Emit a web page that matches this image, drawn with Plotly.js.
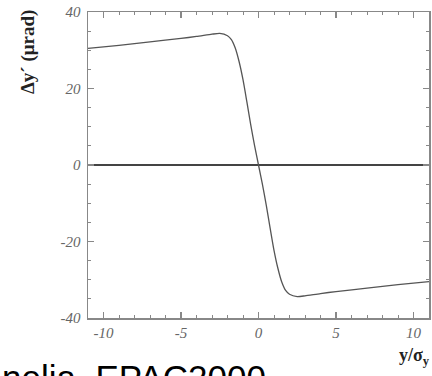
<!DOCTYPE html>
<html><head><meta charset="utf-8">
<script src="https://cdn.plot.ly/plotly-3.0.1.min.js"></script>
<style>html,body{margin:0;padding:0;background:#fff;}#chart{width:432px;height:376px;}</style>
</head><body><div id="chart"></div>
<script>
const yOverSigma = [-11, -9, -7, -5, -4, -3, -2.5, -2, -1.75, -1.5, -1.25, -1, -0.75, -0.5, -0.25, 0,
                    0.25, 0.5, 0.75, 1, 1.25, 1.5, 1.75, 2, 2.5, 3, 4, 5, 7, 9, 11];
const kick = [30.5, 31.3, 32.2, 33.1, 33.6, 34.2, 34.4, 33.8, 32.8, 30.6, 27.0, 22.3, 16.5, 10.5, 5.0, 0,
              -5.0, -10.5, -16.5, -22.3, -27.0, -30.6, -32.8, -33.8, -34.4, -34.2, -33.6, -33.1, -32.2, -31.3, -30.5];
const xTicks = [-10, -5, 0, 5, 10];
const yTicks = [-40, -20, 0, 20, 40];

const tickFont = {family: 'Liberation Serif', size: 15, color: '#666', style: 'italic'};
const axisCommon = {
  showline: true, linecolor: '#888', linewidth: 1.5, mirror: 'ticks',
  ticks: 'inside', ticklen: 6, tickwidth: 1.2, tickcolor: '#888',
  showgrid: false, tickfont: tickFont
};

const data = [{
  x: yOverSigma, y: kick, type: 'scatter', mode: 'lines',
  line: {color: '#555', width: 1.3, shape: 'spline', smoothing: 0.6},
  hoverinfo: 'skip'
}];

const layout = {
  width: 432, height: 376,
  margin: {l: 88, r: 3, t: 12, b: 58},
  paper_bgcolor: '#fff', plot_bgcolor: '#fff',
  showlegend: false,
  xaxis: Object.assign({}, axisCommon, {
    range: [-11, 11], tickvals: xTicks, ticktext: xTicks.map(String),
    zeroline: false,
    minor: {dtick: 1, ticks: 'inside', ticklen: 3, tickcolor: '#888', tickwidth: 1}
  }),
  yaxis: Object.assign({}, axisCommon, {
    range: [-40, 40], tickvals: yTicks, ticktext: yTicks.map(String),
    ticklabelstandoff: 3,
    zeroline: true, zerolinecolor: '#444', zerolinewidth: 1.5,
    minor: {dtick: 5, ticks: 'inside', ticklen: 3, tickcolor: '#888', tickwidth: 1}
  }),
  annotations: [
    {text: '<b>Δy´ (μrad)</b>', textangle: -90, xref: 'paper', yref: 'paper',
     x: -0.178, y: 0.87, xanchor: 'center', yanchor: 'middle', showarrow: false,
     font: {family: 'Liberation Serif', size: 19, color: '#222'}},
    {text: '<b>y/σ<sub>y</sub></b>', xref: 'paper', yref: 'paper',
     x: 1.01, y: -0.083, xanchor: 'right', yanchor: 'top', showarrow: false,
     font: {family: 'Liberation Serif', size: 18, color: '#222'}},
    {text: 'nelia, EPAC2000', xref: 'paper', yref: 'paper',
     x: -0.258, y: -0.125, xanchor: 'left', yanchor: 'top', showarrow: false,
     font: {family: 'Liberation Sans', size: 35, color: '#000'}}
  ]
};
Plotly.newPlot('chart', data, layout, {displayModeBar: false, staticPlot: true});
</script></body></html>
